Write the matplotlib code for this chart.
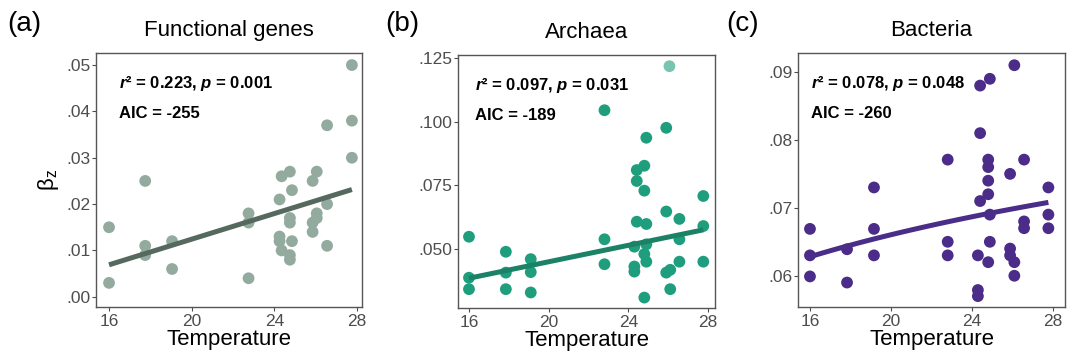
import numpy as np
import matplotlib
matplotlib.use("Agg")
import matplotlib.pyplot as plt

plt.rcParams['font.family'] = ['Liberation Sans', 'DejaVu Sans']
plt.rcParams['mathtext.fontset'] = 'custom'
plt.rcParams['mathtext.rm'] = 'Liberation Sans'
plt.rcParams['mathtext.bf'] = 'Liberation Sans:bold'
plt.rcParams['mathtext.bfit'] = 'Liberation Sans:bold:italic'

# Panel (a) functional genes
temp_a = [16.0, 16.0, 17.75, 17.75, 17.75, 19.05, 19.05, 22.75, 22.75, 22.75,
          24.25, 24.25, 24.25, 24.35, 24.35, 24.75, 24.75, 24.75, 24.75, 24.75,
          24.85, 24.85, 25.85, 25.85, 25.85, 26.05, 26.05, 26.05,
          26.55, 26.55, 26.55, 27.75, 27.75, 27.75]
beta_a = [0.015, 0.003, 0.025, 0.011, 0.009, 0.012, 0.006, 0.018, 0.016, 0.004,
          0.021, 0.013, 0.012, 0.026, 0.010, 0.027, 0.017, 0.016, 0.009, 0.008,
          0.023, 0.012, 0.025, 0.014, 0.016, 0.027, 0.018, 0.017,
          0.037, 0.020, 0.011, 0.050, 0.038, 0.030]

# Panel (b) archaea
temp_b = [16.0, 16.0, 16.0, 17.85, 17.85, 17.85, 19.1, 19.1, 19.1,
          22.8, 22.8, 22.8, 24.3, 24.3, 24.3, 24.42, 24.42, 24.42,
          24.8, 24.8, 24.8, 24.8, 24.9, 24.9, 24.9, 24.9,
          25.9, 25.9, 25.9, 26.1, 26.1, 26.56, 26.56, 26.56,
          27.76, 27.76, 27.76]
beta_b = [0.0548, 0.0387, 0.0342, 0.0489, 0.0407, 0.0342, 0.0460, 0.0409, 0.0329,
          0.1045, 0.0538, 0.0440, 0.0509, 0.0431, 0.0411, 0.0810, 0.0767, 0.0607,
          0.0827, 0.0729, 0.0480, 0.0309, 0.0937, 0.0598, 0.0518, 0.0450,
          0.0976, 0.0647, 0.0407, 0.0418, 0.0342, 0.0618, 0.0538, 0.0450,
          0.0708, 0.0590, 0.0450]
# lighter outlier point in (b)
temp_b_light = [26.06]
beta_b_light = [0.1218]

# Panel (c) bacteria
temp_c = [16.0, 16.0, 16.0, 17.83, 17.83, 19.16, 19.16, 19.16,
          22.8, 22.8, 22.8, 24.29, 24.29, 24.29, 24.4, 24.4, 24.4,
          24.8, 24.8, 24.8, 24.8, 24.8, 24.88, 24.88, 24.88,
          25.88, 25.88, 25.88, 26.09, 26.09, 26.09, 26.57, 26.57, 26.57,
          27.77, 27.77, 27.77]
beta_c = [0.0669, 0.0630, 0.0599, 0.0639, 0.0590, 0.0730, 0.0669, 0.0630,
          0.0771, 0.0650, 0.0630, 0.0630, 0.0579, 0.0570, 0.0880, 0.0810, 0.0710,
          0.0771, 0.0760, 0.0740, 0.0720, 0.0620, 0.0890, 0.0690, 0.0650,
          0.0750, 0.0640, 0.0630, 0.0910, 0.0620, 0.0600, 0.0771, 0.0680, 0.0670,
          0.0730, 0.0690, 0.0670]

# fitted models
fit_a = (-0.01521, 0.001382)       # linear: a + b*T
fit_b = (0.01265, 0.001616)        # linear: a + b*T
fit_c = (0.02257, 0.01451)         # log: a + b*ln(T)

titles = ["Functional genes", "Archaea", "Bacteria"]
letters = ["(a)", "(b)", "(c)"]
stats = [("0.223", "0.001", "-255"), ("0.097", "0.031", "-189"), ("0.078", "0.048", "-260")]

yticks_list = [[0.00, 0.01, 0.02, 0.03, 0.04, 0.05],
               [0.050, 0.075, 0.100, 0.125],
               [0.06, 0.07, 0.08, 0.09]]
ytick_labels = [[".00", ".01", ".02", ".03", ".04", ".05"],
                [".050", ".075", ".100", ".125"],
                [".06", ".07", ".08", ".09"]]
xticks = [16, 20, 24, 28]

fig = plt.figure(figsize=(10.8, 3.63), dpi=100)
positions = [[0.0889, 0.1543, 0.2463, 0.6997],
             [0.4241, 0.1515, 0.2380, 0.6970],
             [0.7389, 0.1543, 0.2472, 0.6997]]
xlims = [(15.37, 28.24), (15.45, 28.35), (15.41, 28.59)]
ylims = [(-0.0022, 0.0526), (0.0268, 0.1262), (0.0554, 0.0928)]
point_colors = ["#93ab9f", "#1f9e7d", "#4b2c88"]
line_colors = ["#56695f", "#1b8267", "#4a2d88"]
text_x = [0.085, 0.065, 0.05]

data = [(temp_a, beta_a), (temp_b, beta_b), (temp_c, beta_c)]

for i in range(3):
    ax = fig.add_axes(positions[i])
    t, b = data[i]
    ax.scatter(t, b, s=72, color=point_colors[i], edgecolors='none', zorder=2)
    if i == 1:
        ax.scatter(temp_b_light, beta_b_light, s=72, color=point_colors[i],
                   alpha=0.6, edgecolors='none', zorder=2)

    xs = np.linspace(16, max(t), 100)
    if i == 0:
        ys = fit_a[0] + fit_a[1] * xs
    elif i == 1:
        ys = fit_b[0] + fit_b[1] * xs
    else:
        ys = fit_c[0] + fit_c[1] * np.log(xs)
    ax.plot(xs, ys, color=line_colors[i], lw=3.6, solid_capstyle='butt', zorder=3)

    ax.set_xlim(*xlims[i])
    ax.set_ylim(*ylims[i])
    ax.set_xticks(xticks)
    ax.set_xticklabels([str(v) for v in xticks])
    ax.set_yticks(yticks_list[i])
    ax.set_yticklabels(ytick_labels[i])
    ax.tick_params(axis='both', labelsize=12.5, labelcolor='#4d4d4d', color='#4d4d4d',
                   length=3, width=0.8)
    ax.tick_params(axis='x', pad=2)
    ax.tick_params(axis='y', pad=1)
    for sp in ax.spines.values():
        sp.set_color('#555555')
        sp.set_linewidth(1.0)

    ax.set_xlabel("Temperature", fontsize=16, labelpad=0)
    ax.set_title(titles[i], fontsize=16, pad=12)
    r2, p, aic = stats[i]
    ax.text(text_x[i], 0.88,
            r"$\mathbfit{r}$² = " + r2 + r", $\mathbfit{p}$ = " + p,
            transform=ax.transAxes, fontsize=12, fontweight='bold', va='center')
    ax.text(text_x[i], 0.76, "AIC = " + aic,
            transform=ax.transAxes, fontsize=12, fontweight='bold', va='center')
    if i == 0:
        ax.set_ylabel(r"β$_{\mathrm{z}}$", fontsize=16, labelpad=4)

fig.text(0.007, 0.915, letters[0], fontsize=20)
fig.text(0.357, 0.915, letters[1], fontsize=20)
fig.text(0.672, 0.915, letters[2], fontsize=20)

fig.savefig("out.png", dpi=100)
